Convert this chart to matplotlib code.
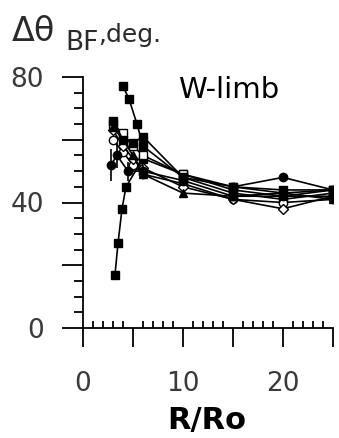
import matplotlib
matplotlib.use("Agg")
import matplotlib.pyplot as plt
from matplotlib.ticker import MultipleLocator, FuncFormatter

plt.rcParams['font.family'] = ['DejaVu Sans']

# R/Ro distances and angle curves for each run
r_near = [3.0, 4.0, 5.0, 6.0, 10.0, 15.0, 20.0, 25.0]
r_top = [4.0, 4.6, 5.4, 6.0, 10.0, 15.0, 20.0, 25.0]
r_rise = [3.2, 3.5, 3.9, 4.3, 6.0, 10.0, 15.0, 20.0, 25.0]
r_err = [2.8, 3.4, 4.5, 6.0, 10.0, 15.0, 20.0, 25.0]
r_far = [15.0, 20.0, 25.0]

theta_top = [77, 73, 65, 58, 48, 45, 43, 44]
theta_rise = [17, 27, 38, 45, 54, 49, 45, 44, 44]
theta_a = [65, 62, 58, 55, 49, 44, 42, 44]
theta_b = [66, 60, 59, 61, 48, 43, 41, 43]
theta_c = [60, 56, 52, 49, 46, 41, 40, 41]
theta_d = [63, 58, 54, 51, 45, 41, 38, 42]
theta_e = [64, 60, 55, 49, 43, 42, 43, 41]
theta_err = [52, 55, 50, 50, 47, 42, 42, 42]
err_err = [5, 4, 3, 2, 1, 1, 1, 1]
theta_far = [45, 48, 44]

y_labels = [0, 40, 80]
x_labels = [0, 10, 20]

W, H = 339, 438
fig = plt.figure(figsize=(W / 100, H / 100), dpi=100)
ax = fig.add_axes([83 / W, 1 - 328 / H, 250 / W, 251 / H])

kw = dict(color='black', lw=1.2, ms=6)
ax.plot(r_top, theta_top, marker='s', mfc='black', **kw)
ax.plot(r_rise, theta_rise, marker='s', mfc='black', **kw)
ax.plot(r_near, theta_a, marker='s', mfc='white', **kw)
ax.plot(r_near, theta_b, marker='s', mfc='black', **kw)
ax.plot(r_near, theta_c, marker='o', mfc='white', **kw)
ax.plot(r_near, theta_d, marker='D', mfc='white', ms=5, color='black', lw=1.2)
ax.plot(r_near, theta_e, marker='^', mfc='black', **kw)
ax.errorbar(r_err, theta_err, yerr=err_err, marker='o', mfc='black', color='black',
            lw=1.2, ms=6, capsize=0)
ax.plot(r_far, theta_far, marker='o', mfc='black', **kw)

ax.set_xlim(0, 25)
ax.set_ylim(0, 80)
for s in ['top', 'right']:
    ax.spines[s].set_visible(False)
for s in ['left', 'bottom']:
    ax.spines[s].set_linewidth(1.3)

ax.yaxis.set_major_locator(MultipleLocator(20))
ax.yaxis.set_minor_locator(MultipleLocator(5))
ax.xaxis.set_major_locator(MultipleLocator(5))
ax.xaxis.set_minor_locator(MultipleLocator(1))
ax.yaxis.set_major_formatter(FuncFormatter(
    lambda v, p: '%d' % v if round(v) in y_labels else ''))
ax.xaxis.set_major_formatter(FuncFormatter(
    lambda v, p: '%d' % v if round(v) in x_labels else ''))

ax.tick_params(axis='y', which='major', direction='out', length=15, width=1.3,
               pad=13, labelsize=19, labelcolor='#3a3a3a')
ax.tick_params(axis='y', which='minor', direction='out', length=6.5, width=1.3)
ax.tick_params(axis='x', which='major', direction='out', length=14, width=1.3,
               pad=17, labelsize=19, labelcolor='#3a3a3a')
ax.tick_params(axis='x', which='minor', direction='in', length=5, width=1.3)

fig.text(207 / W, 1 - 420 / H, 'R/Ro', fontsize=22, fontweight='bold',
         ha='center', va='center')
fig.text(178 / W, 1 - 90 / H, 'W-limb', fontsize=21, ha='left', va='center')

# axis title: delta theta with BF subscript
fig.text(12 / W, 1 - 41 / H, '\u0394\u03b8', fontsize=24, ha='left', va='baseline',
         color='#2a2a2a')
fig.text(65 / W, 1 - 50 / H, 'BF', fontsize=19, ha='left', va='baseline', color='#2a2a2a')
fig.text(98 / W, 1 - 42 / H, ',deg.', fontsize=18, ha='left', va='baseline', color='#2a2a2a')

fig.savefig('out.png', dpi=100)
